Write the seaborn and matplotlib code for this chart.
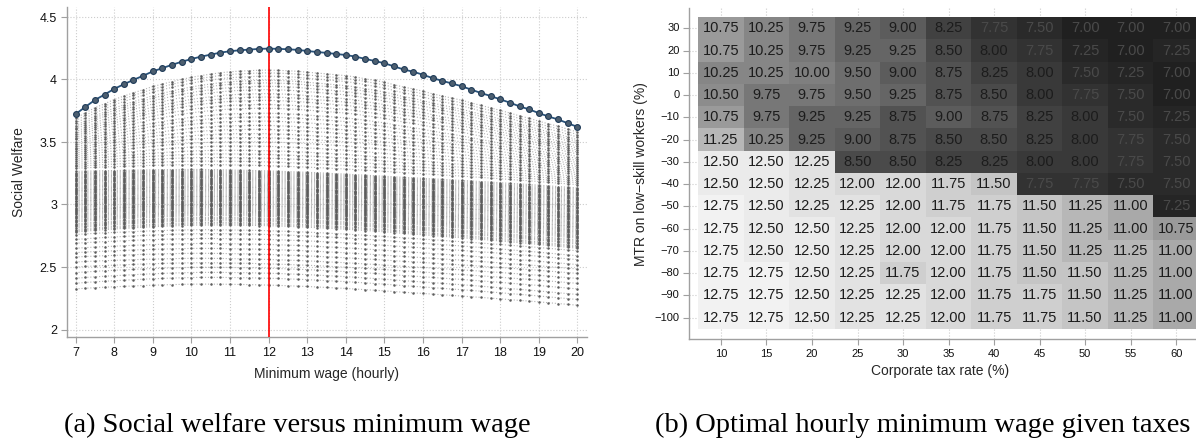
import numpy as np
import pandas as pd
import matplotlib
matplotlib.use("Agg")
import matplotlib.pyplot as plt
from matplotlib.colors import LinearSegmentedColormap
import seaborn as sns

# ---------------- data: panel (a) ----------------
wage = [7.00, 7.25, 7.50, 7.75, 8.00, 8.25, 8.50, 8.75, 9.00, 9.25, 9.50, 9.75,
        10.00, 10.25, 10.50, 10.75, 11.00, 11.25, 11.50, 11.75, 12.00, 12.25, 12.50, 12.75,
        13.00, 13.25, 13.50, 13.75, 14.00, 14.25, 14.50, 14.75, 15.00, 15.25, 15.50, 15.75,
        16.00, 16.25, 16.50, 16.75, 17.00, 17.25, 17.50, 17.75, 18.00, 18.25, 18.50, 18.75,
        19.00, 19.25, 19.50, 19.75, 20.00]

# best (optimal-tax) welfare curve
top_curve = [3.723, 3.780, 3.836, 3.879, 3.925, 3.962, 3.997, 4.030, 4.065, 4.091, 4.118, 4.142,
             4.164, 4.183, 4.199, 4.215, 4.226, 4.234, 4.239, 4.245, 4.247, 4.245, 4.242, 4.237,
             4.228, 4.220, 4.213, 4.204, 4.196, 4.183, 4.165, 4.148, 4.130, 4.105, 4.080, 4.062,
             4.038, 4.011, 3.989, 3.968, 3.946, 3.919, 3.892, 3.868, 3.841, 3.815, 3.785, 3.761,
             3.731, 3.704, 3.680, 3.650, 3.621]

# lowest welfare curve
bottom_curve = [2.320, 2.326, 2.331, 2.336, 2.340, 2.344, 2.348, 2.352, 2.355, 2.358, 2.361, 2.363,
                2.365, 2.366, 2.366, 2.366, 2.365, 2.364, 2.363, 2.361, 2.359, 2.357, 2.354, 2.351,
                2.348, 2.344, 2.340, 2.336, 2.332, 2.327, 2.322, 2.317, 2.312, 2.306, 2.300, 2.295,
                2.290, 2.284, 2.279, 2.273, 2.268, 2.262, 2.256, 2.250, 2.244, 2.237, 2.231, 2.225,
                2.218, 2.211, 2.204, 2.197, 2.190]

# other curves: welfare read at wage 7 and at wage 12
w7_low = [2.325, 2.37, 2.41, 2.455, 2.50, 2.54, 2.58, 2.615, 2.65, 2.69, 2.72, 2.76]
w12_low = [2.355, 2.41, 2.45, 2.49, 2.525, 2.56, 2.60, 2.64, 2.68, 2.72, 2.76, 2.79]

w7_mid = [2.78, 2.79, 2.80, 2.815, 2.825, 2.835, 2.845, 2.86, 2.87, 2.88, 2.89, 2.90, 2.91,
          2.92, 2.93, 2.94, 2.95, 2.955, 2.965, 2.975, 2.985, 2.995, 3.005, 3.015, 3.025,
          3.03, 3.04, 3.05, 3.06, 3.07, 3.08, 3.09, 3.10, 3.11, 3.115, 3.125, 3.135, 3.145,
          3.155, 3.165, 3.175, 3.185, 3.195, 3.205, 3.215, 3.225, 3.235, 3.245, 3.255, 3.265]
w12_mid = [2.83, 2.84, 2.85, 2.864, 2.873, 2.882, 2.891, 2.905, 2.914, 2.923, 2.932, 2.941, 2.950,
           2.959, 2.968, 2.977, 2.986, 2.990, 2.999, 3.008, 3.017, 3.026, 3.035, 3.044, 3.053,
           3.057, 3.066, 3.075, 3.084, 3.093, 3.102, 3.111, 3.120, 3.129, 3.133, 3.142, 3.151,
           3.160, 3.169, 3.178, 3.187, 3.196, 3.205, 3.214, 3.223, 3.232, 3.241, 3.250, 3.259, 3.268]

w7_up = [3.69, 3.67, 3.65, 3.63, 3.615, 3.60, 3.58, 3.565, 3.55, 3.535, 3.52, 3.50, 3.485,
         3.47, 3.455, 3.44, 3.425, 3.41, 3.395, 3.38, 3.365, 3.35, 3.335, 3.32, 3.305, 3.29]
w12_up = [4.075, 4.053, 4.027, 3.994, 3.973, 3.946, 3.919, 3.887, 3.860, 3.833, 3.800, 3.770,
          3.730, 3.700, 3.667, 3.632, 3.600, 3.566, 3.534, 3.500, 3.465, 3.430, 3.400, 3.370,
          3.340, 3.310]

optimal_wage_line = 12
x_ticks_a = [7, 8, 9, 10, 11, 12, 13, 14, 15, 16, 17, 18, 19, 20]
y_ticks_a = [2, 2.5, 3, 3.5, 4, 4.5]
y_ticklabels_a = ["2", "2.5", "3", "3.5", "4", "4.5"]

# ---------------- data: panel (b) ----------------
tax_rates = [10, 15, 20, 25, 30, 35, 40, 45, 50, 55, 60]
mtr_rates = [30, 20, 10, 0, -10, -20, -30, -40, -50, -60, -70, -80, -90, -100]
opt_wage = [
    [10.75, 10.25, 9.75, 9.25, 9.00, 8.25, 7.75, 7.50, 7.00, 7.00, 7.00],
    [10.75, 10.25, 9.75, 9.25, 9.25, 8.50, 8.00, 7.75, 7.25, 7.00, 7.25],
    [10.25, 10.25, 10.00, 9.50, 9.00, 8.75, 8.25, 8.00, 7.50, 7.25, 7.00],
    [10.50, 9.75, 9.75, 9.50, 9.25, 8.75, 8.50, 8.00, 7.75, 7.50, 7.00],
    [10.75, 9.75, 9.25, 9.25, 8.75, 9.00, 8.75, 8.25, 8.00, 7.50, 7.25],
    [11.25, 10.25, 9.25, 9.00, 8.75, 8.50, 8.50, 8.25, 8.00, 7.75, 7.50],
    [12.50, 12.50, 12.25, 8.50, 8.50, 8.25, 8.25, 8.00, 8.00, 7.75, 7.50],
    [12.50, 12.50, 12.25, 12.00, 12.00, 11.75, 11.50, 7.75, 7.75, 7.50, 7.50],
    [12.75, 12.50, 12.25, 12.25, 12.00, 11.75, 11.75, 11.50, 11.25, 11.00, 7.25],
    [12.75, 12.50, 12.50, 12.25, 12.00, 12.00, 11.75, 11.50, 11.25, 11.00, 10.75],
    [12.75, 12.50, 12.50, 12.25, 12.00, 12.00, 11.75, 11.50, 11.25, 11.25, 11.00],
    [12.75, 12.75, 12.50, 12.25, 11.75, 12.00, 11.75, 11.50, 11.50, 11.25, 11.00],
    [12.75, 12.75, 12.50, 12.25, 12.25, 12.00, 11.75, 11.75, 11.50, 11.25, 11.00],
    [12.75, 12.75, 12.50, 12.25, 12.25, 12.00, 11.75, 11.75, 11.50, 11.25, 11.00],
]

# grey scale used for the cells (value -> grey level)
shade_values = [7.00, 7.50, 8.00, 8.50, 9.00, 9.50, 10.00, 10.50, 11.00, 11.50, 12.00, 12.50, 12.75]
shade_levels = [0.125, 0.165, 0.225, 0.29, 0.36, 0.43, 0.50, 0.55, 0.66, 0.77, 0.85, 0.92, 0.95]

# ---------------- figure ----------------
sns.set_theme(style="white")
plt.rcParams['font.family'] = ['Liberation Sans', 'DejaVu Sans']
plt.rcParams['axes.unicode_minus'] = True

W, H = 1196, 444
fig = plt.figure(figsize=(W / 100, H / 100), dpi=100)
ax1 = fig.add_axes([66.7 / W, 1 - 337 / H, 520 / W, 330 / H])
ax2 = fig.add_axes([689.3 / W, 1 - 339 / H, (1208 - 689.3) / W, 330.7 / H])

SPINE = '#a0a0a0'
GRID = '#cccccc'

# ---- panel (a) ----
P_hi = np.array(top_curve)
P_lo = np.array(bottom_curve)
i12 = wage.index(12.0)
shape_extra = (P_hi - P_hi[0]) - (P_lo - P_lo[0])
w7_all = w7_low + w7_mid + w7_up
w12_all = w12_low + w12_mid + w12_up
for a, b in zip(w7_all, w12_all):
    off = a - P_lo[0]
    s = ((b - P_lo[i12]) - off) / shape_extra[i12]
    curve = P_lo + off + s * shape_extra
    ax1.plot(wage, curve, ls=':', color='#b4b4b4', lw=0.8, marker='o', ms=1.8,
             mfc='#5c5c5c', mec='#5c5c5c', mew=0, zorder=2)

ax1.axvline(optimal_wage_line, color='red', lw=1.2, zorder=3)
sns.lineplot(x=wage, y=top_curve, ax=ax1, color='#28527a', lw=1.3, marker='o',
             markersize=4.2, markerfacecolor='#4d5f70', markeredgecolor='#1f3b58',
             markeredgewidth=0.8, zorder=4)

ax1.set_xlim(6.77, 20.24)
ax1.set_ylim(1.94, 4.58)
ax1.set_xticks(x_ticks_a)
ax1.set_yticks(y_ticks_a)
ax1.set_yticklabels(y_ticklabels_a)
ax1.grid(True, ls=':', color=GRID, lw=0.8)
ax1.set_axisbelow(True)
for sp in ['top', 'right']:
    ax1.spines[sp].set_visible(False)
for sp in ['left', 'bottom']:
    ax1.spines[sp].set_visible(True)
    ax1.spines[sp].set_color(SPINE)
    ax1.spines[sp].set_linewidth(1.0)
ax1.tick_params(axis='both', which='major', bottom=True, left=True, length=4, width=0.8,
                color=SPINE, labelsize=9, labelcolor='#111111', pad=3)
ax1.set_xlabel("Minimum wage (hourly)", fontsize=10, labelpad=6)
ax1.set_ylabel("Social Welfare", fontsize=10, labelpad=10)

# ---- panel (b) ----
lo, hi = shade_values[0], shade_values[-1]
nodes = [(v - lo) / (hi - lo) for v in shade_values]
grey_cmap = LinearSegmentedColormap.from_list(
    "greys_cells", [(n, (g, g, g)) for n, g in zip(nodes, shade_levels)])

mtr_labels = [str(m).replace('-', '\u2212') for m in mtr_rates]
df = pd.DataFrame(opt_wage, index=mtr_labels, columns=[str(t) for t in tax_rates])
sns.heatmap(df, ax=ax2, cmap=grey_cmap, vmin=lo, vmax=hi, annot=True, fmt='.2f',
            cbar=False, linewidths=0,
            annot_kws={'color': '#1c1c1c', 'fontsize': 10.5})
# on the darkest cells the printed numbers read as a slightly lighter grey
for t in ax2.texts:
    if float(t.get_text()) <= 7.75:
        t.set_color('#4a4a4a')

ax2.set_xlim(-0.196, 11.2)
ax2.set_ylim(14.46, -0.4)
ax2.grid(True, ls=':', color=GRID, lw=0.8)
ax2.set_axisbelow(True)
for sp in ['top', 'right']:
    ax2.spines[sp].set_visible(False)
for sp in ['left', 'bottom']:
    ax2.spines[sp].set_visible(True)
    ax2.spines[sp].set_color(SPINE)
    ax2.spines[sp].set_linewidth(1.0)
ax2.tick_params(axis='both', which='major', bottom=True, left=True, length=4, width=0.8,
                color=SPINE, labelsize=8, labelcolor='#111111', pad=3)
plt.setp(ax2.get_xticklabels(), rotation=0)
plt.setp(ax2.get_yticklabels(), rotation=0)
ax2.set_xlabel("Corporate tax rate (%)", fontsize=10, labelpad=6)
ax2.set_ylabel("MTR on low\u2212skill workers (%)", fontsize=10, labelpad=5)
ax2.xaxis.set_label_coords((940 - 689.3) / (1208 - 689.3), -0.075)

# ---- captions ----
fig.text(297 / W, 1 - 425 / H, "(a) Social welfare versus minimum wage", ha='center',
         va='center', family='Liberation Serif', fontsize=20.5, color='black')
fig.text(923 / W, 1 - 425 / H, "(b) Optimal hourly minimum wage given taxes", ha='center',
         va='center', family='Liberation Serif', fontsize=20.5, color='black')

fig.savefig("out.png", dpi=100)
